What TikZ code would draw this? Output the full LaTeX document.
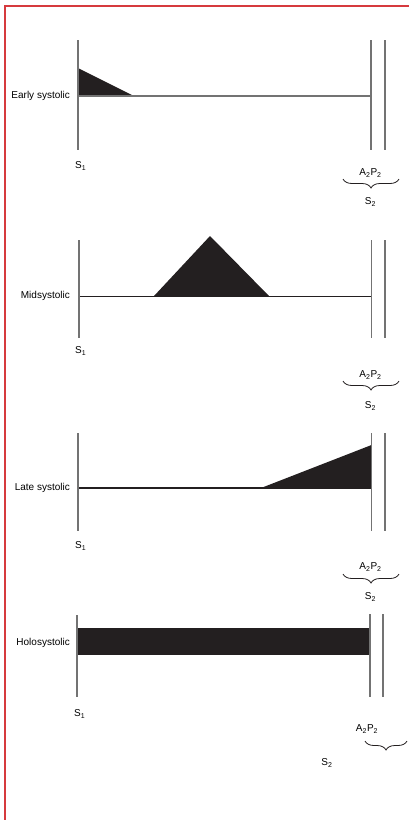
\documentclass[tikz,border=0pt]{standalone}
\usepackage{fontspec}
\setmainfont{Liberation Sans}
\usetikzlibrary{decorations.pathreplacing}
\definecolor{gline}{RGB}{115,115,115}
\definecolor{fillk}{RGB}{35,31,32}
\definecolor{redb}{RGB}{214,58,62}
\begin{document}
\begin{tikzpicture}[x=1pt,y=-1pt,
  vline/.style={draw=gline, line width=1.1pt},
  gbase/.style={draw=gline, line width=1.1pt},
  kbase/.style={draw=fillk, line width=1pt},
  kthick/.style={draw=fillk, line width=1.8pt},
  blob/.style={fill=fillk},
  lab/.style={font=\fontsize{10}{12}\selectfont, anchor=east, inner sep=0pt},
  snd/.style={font=\fontsize{10}{12}\selectfont, inner sep=0pt},
  sone/.style={snd, anchor=west},
  br/.style={draw=fillk, decorate, decoration={brace, amplitude=9pt, mirror}, line width=0.8pt}
]
\useasboundingbox (0,0) rectangle (409,820);
\draw[redb, line width=1.6pt] (5,820) -- (5,6) -- (409,6);

% ---------- Early systolic ----------
\coordinate (e1t) at (78,40);  \coordinate (e1b) at (78,150);
\coordinate (e2t) at (371,40); \coordinate (e2b) at (371,150);
\coordinate (e3t) at (385,40); \coordinate (e3b) at (385,150);
\coordinate (e0) at (78,96);   \coordinate (eR) at (371,96);
\fill[blob] (78,68) -- (134,96) -- (78,96) -- cycle;
\draw[gbase] (e0) -- (eR);
\draw[vline] (e1t) -- (e1b);
\draw[vline] (e2t) -- (e2b);
\draw[vline] (e3t) -- (e3b);
\node[lab] (lab1) at (70,96) {Early systolic};
\node[sone] (s1a) at (75,166) {S\textsubscript{1}};
\node[snd] (ap1) at (370.5,173) {A\textsubscript{2}P\textsubscript{2}};
\coordinate (b1l) at (343,179); \coordinate (b1r) at (399,179);
\draw[br] (b1l) -- (b1r);
\node[snd] (s2a) at (370.5,202) {S\textsubscript{2}};

% ---------- Midsystolic ----------
\coordinate (m1t) at (79,240);  \coordinate (m1b) at (79,338);
\coordinate (m2t) at (371.5,240); \coordinate (m2b) at (371.5,338);
\coordinate (m3t) at (385,240); \coordinate (m3b) at (385,338);
\coordinate (m0) at (79,296);   \coordinate (mR) at (371.5,296);
\fill[blob] (154,296) -- (210,236) -- (269,296) -- cycle;
\draw[kbase] (m0) -- (mR);
\draw[vline] (m1t) -- (m1b);
\draw[vline] (m2t) -- (m2b);
\draw[vline] (m3t) -- (m3b);
\node[lab] (lab2) at (70,296) {Midsystolic};
\node[sone] (s1b) at (75,351) {S\textsubscript{1}};
\node[snd] (ap2) at (370.5,375) {A\textsubscript{2}P\textsubscript{2}};
\coordinate (b2l) at (343,381); \coordinate (b2r) at (399,381);
\draw[br] (b2l) -- (b2r);
\node[snd] (s2b) at (370.5,406) {S\textsubscript{2}};

% ---------- Late systolic ----------
\coordinate (t1t) at (78,433);  \coordinate (t1b) at (78,531);
\coordinate (t2t) at (371.5,433); \coordinate (t2b) at (371.5,531);
\coordinate (t3t) at (385,433); \coordinate (t3b) at (385,531);
\coordinate (t0) at (78,488);   \coordinate (tR) at (371.5,488);
\fill[blob] (261,488) -- (371.5,445) -- (371.5,488) -- cycle;
\draw[kthick] (t0) -- (tR);
\draw[vline] (t1t) -- (t1b);
\draw[vline] (t2t) -- (t2b);
\draw[vline] (t3t) -- (t3b);
\node[lab] (lab3) at (70,488) {Late systolic};
\node[sone] (s1c) at (75,546) {S\textsubscript{1}};
\node[snd] (ap3) at (370.5,567) {A\textsubscript{2}P\textsubscript{2}};
\coordinate (b3l) at (343,574); \coordinate (b3r) at (399,574);
\draw[br] (b3l) -- (b3r);
\node[snd] (s2c) at (370.5,597) {S\textsubscript{2}};

% ---------- Holosystolic ----------
\coordinate (h1t) at (77,615);  \coordinate (h1b) at (77,697);
\coordinate (h2t) at (370,614); \coordinate (h2b) at (370,697);
\coordinate (h3t) at (383,614); \coordinate (h3b) at (383,697);
\fill[blob] (77,628) rectangle (370,655);
\draw[vline] (h1t) -- (h1b);
\draw[vline] (h2t) -- (h2b);
\draw[vline] (h3t) -- (h3b);
\node[lab] (lab4) at (70,643) {Holosystolic};
\node[sone] (s1d) at (74,714) {S\textsubscript{1}};
\node[snd] (ap4) at (367,729) {A\textsubscript{2}P\textsubscript{2}};
\coordinate (b4l) at (365,741); \coordinate (b4r) at (407,741);
\draw[br] (b4l) -- (b4r);
\node[snd] (s2d) at (327,763) {S\textsubscript{2}};
\end{tikzpicture}
\end{document}
